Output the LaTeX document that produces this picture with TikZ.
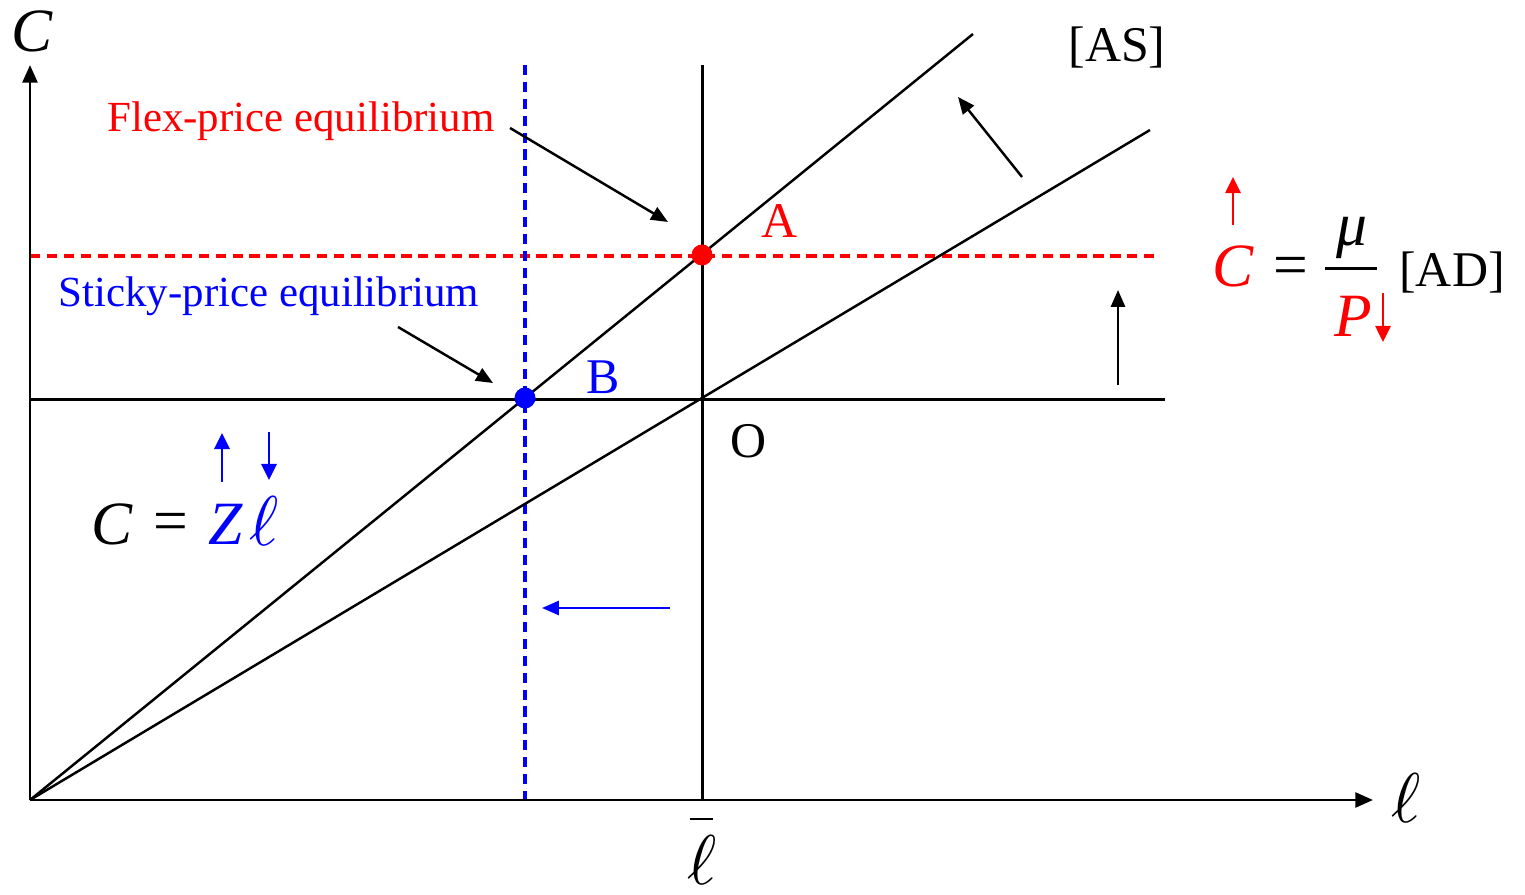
\documentclass[tikz,border=0pt]{standalone}
\usepackage{fontspec}
\setmainfont{Liberation Serif}
\usetikzlibrary{arrows.meta}
\newcommand\myfs[1]{\fontsize{#1}{#1}\selectfont}
\newcommand\bigell{\scalebox{2}{$\ell$}}
\definecolor{pred}{RGB}{255,0,0}
\definecolor{pblue}{RGB}{0,0,255}
\begin{document}
\begin{tikzpicture}[x=0.01cm,y=-0.01cm,
  lab/.style={inner sep=0pt, outer sep=0pt},
  axisline/.style={line width=0.85pt},
  axisarrow/.style={line width=0.85pt, -{Triangle[length=5pt,width=4.2pt]}},
  diag/.style={line width=0.7pt},
  ptr/.style={line width=0.7pt, -{Triangle[length=4.8pt,width=4pt]}},
  smallarr/.style={line width=0.5pt, -{Triangle[length=4.6pt,width=4.4pt]}},
  dashline/.style={line width=0.95pt, dash pattern=on 2.9pt off 1.9pt},
  dot/.style={circle, inner sep=0pt, minimum size=0.21cm},
  biglab/.style={lab, font=\myfs{14.2}},
  itlab/.style={lab, font=\myfs{17.5}\itshape},
  elllab/.style={lab}
]
\useasboundingbox (0,0) rectangle (1525,895);

% coordinates
\coordinate (O0) at (30,800);
\coordinate (ytop) at (30,65);
\coordinate (xend) at (1373,800);
\coordinate (vtop) at (702,65);
\coordinate (vbot) at (702,800);
\coordinate (hl) at (30,400);
\coordinate (hr) at (1165,400);
\coordinate (as1) at (973,34);
\coordinate (as2) at (1150,130);
\coordinate (rdl) at (30,256);
\coordinate (rdr) at (1160,256);
\coordinate (bdt) at (525,65);
\coordinate (bdb) at (525,800);

% dashed lines
\draw[dashline, pred] (rdl) -- (rdr);
\draw[dashline, pblue] (bdt) -- (bdb);

% axes and lines
\draw[axisarrow] (O0) -- (ytop);
\draw[axisarrow] (O0) -- (xend);
\draw[axisline] (vbot) -- (vtop);
\draw[axisline] (hl) -- (hr);
\draw[diag] (O0) -- (as1);
\draw[diag] (O0) -- (as2);

% equilibrium dots
\node[dot, fill=pred] (A) at (702,255) {};
\node[dot, fill=pblue] (B) at (525,398) {};

% axis labels
\node[itlab] (Cax) at (32,31) {C};
\node[elllab] (lax) at (1406,798) {\bigell};
\node[elllab] (lbar) at (702,860) {\bigell};
\draw[line width=0.7pt] (690,819) -- (713,819);

% point labels
\node[biglab, pred] (Alab) at (780,221) {A};
\node[biglab, pblue] (Blab) at (603,377) {B};
\node[biglab] (Olab) at (749,441) {O};
\node[biglab] (AS) at (1117,48) {[AS]};

% equilibrium text labels
\node[lab, font=\myfs{12.2}, pred] (flex) at (301,121) {Flex-price equilibrium};
\node[lab, font=\myfs{12.2}, pblue] (sticky) at (269,296) {Sticky-price equilibrium};
\coordinate (flexs) at (510,128);
\coordinate (flext) at (668,222);
\coordinate (sticks) at (398,327);
\coordinate (stickt) at (493,383);
\draw[ptr] (flexs) -- (flext);
\draw[ptr] (sticks) -- (stickt);

% shift arrows
\coordinate (nws) at (1022,177);
\coordinate (nwt) at (958,97);
\draw[ptr] (nws) -- (nwt);
\coordinate (ups) at (1118,385);
\coordinate (upt) at (1118,290);
\draw[ptr] (ups) -- (upt);
\coordinate (lfs) at (670,608);
\coordinate (lft) at (542,608);
\draw[ptr, pblue] (lfs) -- (lft);

% AD equation
\node[itlab, pred] (Cad) at (1233,266) {C};
\node[lab, font=\myfs{17.5}] (eqad) at (1291,271) {=};
\node[itlab] (mu) at (1352,238) {μ};
\node[itlab, pred] (Pad) at (1353,316) {P};
\draw[line width=0.85pt] (1325,269) -- (1377,269);
\node[biglab] (AD) at (1452,273) {[AD]};
\coordinate (cus) at (1233,225);
\coordinate (cut) at (1233,177);
\draw[smallarr, pred] (cus) -- (cut);
\coordinate (pds) at (1383,293);
\coordinate (pdt) at (1383,342);
\draw[smallarr, pred] (pds) -- (pdt);

% C = Z ell
\node[itlab] (Cz) at (112,524) {C};
\node[lab, font=\myfs{17.5}] (eqz) at (171,527) {=};
\node[itlab, pblue] (Z) at (226,524) {Z};
\node[elllab, pblue] (lz) at (264,521) {\bigell};
\coordinate (zus) at (222,482);
\coordinate (zut) at (222,433);
\draw[smallarr, pblue] (zus) -- (zut);
\coordinate (lds) at (269,432);
\coordinate (ldt) at (269,480);
\draw[smallarr, pblue] (lds) -- (ldt);
\end{tikzpicture}
\end{document}
